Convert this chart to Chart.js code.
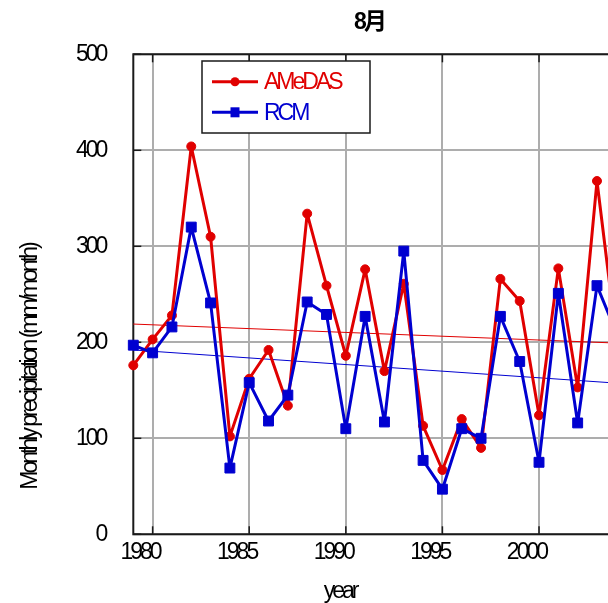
<!DOCTYPE html>
<html><head><meta charset="utf-8">
<style>
html,body{margin:0;padding:0;background:#fff;overflow:hidden;width:608px;height:603px}
#wrap{position:absolute;left:0;top:0;width:740px;height:603px}
</style>
<script src="https://cdn.jsdelivr.net/npm/chart.js@4.4.0/dist/chart.umd.min.js"></script>
</head><body><div id="wrap"><canvas id="c" width="740" height="603"></canvas></div>
<script>
const years = [1979,1980,1981,1982,1983,1984,1985,1986,1987,1988,1989,1990,1991,1992,1993,1994,1995,1996,1997,1998,1999,2000,2001,2002,2003,2004];
const amedas = [176,203,228,404,310,102,162,192,134,334,259,186,276,170,261,113,67,120,90,266,243,124,277,153,368,204];
const rcm = [197,189,216,320,241,69,158,118,145,242,229,110,227,117,295,77,47,110,100,227,180,75,251,116,259,210];
const trendYears = [1979,2004];
const amedasTrend = [219,199.2];
const rcmTrend = [192,157.5];
const xTickYears = [1980,1985,1990,1995,2000];
const xTickLabels = ['1980','1985','1990','1995','2000'];
const yTickValues = [0,100,200,300,400,500];
const yTickLabels = ['0','100','200','300','400','500'];
const seriesNames = ['AMeDAS','RCM'];
const chartTitle = '8月';
const xTitle = 'year';
const yTitle = 'Monthly precipitation (mm/month)';

const RED = '#e00000', BLUE = '#0000d0';
const FAM = "'Liberation Sans', Arial, sans-serif";
const SPACING = '-3px';

const pts = (xs, ys) => xs.map((x, i) => ({x: x, y: ys[i]}));

const spacingPlugin = {
  id: 'spacing',
  beforeLayout(c){ c.ctx.letterSpacing = SPACING; },
  beforeDraw(c){ c.ctx.letterSpacing = SPACING; }
};

const framePlugin = {
  id: 'frame',
  beforeDatasetsDraw(chart){
    const {ctx, chartArea: a, scales: {x, y}} = chart;
    ctx.save();
    ctx.strokeStyle = '#1a1a1a';
    ctx.lineWidth = 1.5;
    const seg = (x1,y1,x2,y2) => { ctx.beginPath(); ctx.moveTo(x1,y1); ctx.lineTo(x2,y2); ctx.stroke(); };
    yTickValues.forEach(v => { const py = y.getPixelForValue(v); seg(a.left,py,a.left+8,py); seg(a.right-8,py,a.right,py); });
    xTickYears.forEach(v => { const px = x.getPixelForValue(v); seg(px,a.bottom,px,a.bottom-8); seg(px,a.top,px,a.top+8); });
    ctx.lineWidth = 2;
    ctx.strokeRect(a.left, a.top, a.right - a.left, a.bottom - a.top);
    ctx.restore();
  }
};

const textPlugin = {
  id: 'texts',
  afterDraw(chart){
    const ctx = chart.ctx;
    ctx.save();
    ctx.letterSpacing = SPACING;
    ctx.fillStyle = '#000';
    ctx.font = '23px ' + FAM;
    ctx.textAlign = 'center';
    ctx.textBaseline = 'middle';
    ctx.fillText(xTitle, 340, 592);
    ctx.translate(31, 367);
    ctx.rotate(-Math.PI/2);
    ctx.fillText(yTitle, 0, 0);
    ctx.restore();

    // legend
    const o = chart.options.plugins.boxLegend;
    ctx.save();
    ctx.fillStyle = '#fff';
    ctx.fillRect(o.x, o.y, o.w, o.h);
    ctx.strokeStyle = '#1a1a1a';
    ctx.lineWidth = 1.5;
    ctx.strokeRect(o.x, o.y, o.w, o.h);
    ctx.letterSpacing = SPACING;
    ctx.font = '23px ' + FAM;
    ctx.textBaseline = 'middle';
    ctx.textAlign = 'left';
    [0,1].forEach(i => {
      const ds = chart.data.datasets[i];
      const cy = o.rows[i];
      ctx.strokeStyle = ds.borderColor;
      ctx.lineWidth = 3;
      ctx.beginPath(); ctx.moveTo(o.x + 10, cy); ctx.lineTo(o.x + 56, cy); ctx.stroke();
      ctx.fillStyle = ds.borderColor;
      const mx = o.x + 33;
      if (ds.pointStyle === 'rect') { ctx.fillRect(mx - 4.5, cy - 5, 9, 10); }
      else { ctx.beginPath(); ctx.arc(mx, cy, 4.5, 0, Math.PI*2); ctx.fill(); }
      ctx.fillText(ds.label, o.x + 62, cy + 1);
    });
    ctx.restore();
  }
};

new Chart(document.getElementById('c'), {
  type: 'line',
  data: {
    datasets: [
      { label: seriesNames[0], data: pts(years, amedas), borderColor: RED, backgroundColor: RED, borderWidth: 3,
        borderJoinStyle: 'round', pointStyle: 'circle', pointRadius: 4.5, pointBorderWidth: 1,
        pointBackgroundColor: RED, pointBorderColor: RED, order: 2, clip: false },
      { label: seriesNames[1], data: pts(years, rcm), borderColor: BLUE, backgroundColor: BLUE, borderWidth: 3,
        borderJoinStyle: 'round', pointStyle: 'rect', pointRadius: 7, pointBorderWidth: 1,
        pointBackgroundColor: BLUE, pointBorderColor: BLUE, order: 1, clip: false },
      { label: 'AMeDAS trend', data: pts(trendYears, amedasTrend), borderColor: RED, borderWidth: 1, pointRadius: 0, order: 3, clip: false },
      { label: 'RCM trend', data: pts(trendYears, rcmTrend), borderColor: BLUE, borderWidth: 1, pointRadius: 0, order: 3, clip: false }
    ]
  },
  options: {
    responsive: false,
    animation: false,
    devicePixelRatio: 1,
    events: [],
    layout: { padding: { left: 0, right: 2, top: 0, bottom: 0 } },
    plugins: {
      legend: { display: false },
      tooltip: { enabled: false },
      title: { display: true, text: chartTitle, color: '#000',
        font: { family: "'Liberation Sans', 'Noto Sans CJK JP', sans-serif", size: 23, weight: 'bold', lineHeight: 1.2 },
        padding: { top: 8.5, bottom: 18.2 } },
      boxLegend: { x: 202, y: 61, w: 168, h: 72, rows: [81.7, 112.3] }
    },
    scales: {
      x: {
        type: 'linear', min: 1979, max: 2004,
        afterBuildTicks(s){ s.ticks = xTickYears.map(v => ({value: v})); },
        afterFit(s){ s.height = 68.7; },
        grid: { color: '#adadad', lineWidth: 2, drawTicks: false },
        border: { display: false },
        ticks: { color: '#000', font: { family: FAM, size: 23 }, padding: 5, labelOffset: -12.6,
          maxRotation: 0, autoSkip: false, callback: (v) => xTickLabels[xTickYears.indexOf(v)] }
      },
      y: {
        type: 'linear', position: 'left', min: 0, max: 500,
        afterBuildTicks(s){ s.ticks = yTickValues.map(v => ({value: v})); },
        afterFit(s){ s.width = 133.3; },
        grid: { color: '#adadad', lineWidth: 2, drawTicks: false },
        border: { display: false },
        ticks: { color: '#000', font: { family: FAM, size: 23 }, padding: 28,
          callback: (v) => yTickLabels[yTickValues.indexOf(v)] }
      },
      yRight: {
        type: 'linear', position: 'right', min: 0, max: 500,
        afterFit(s){ s.width = 121.7; },
        grid: { display: false, drawTicks: false },
        border: { display: false },
        ticks: { display: false }
      }
    }
  },
  plugins: [spacingPlugin, framePlugin, textPlugin]
});
</script>
</body></html>
